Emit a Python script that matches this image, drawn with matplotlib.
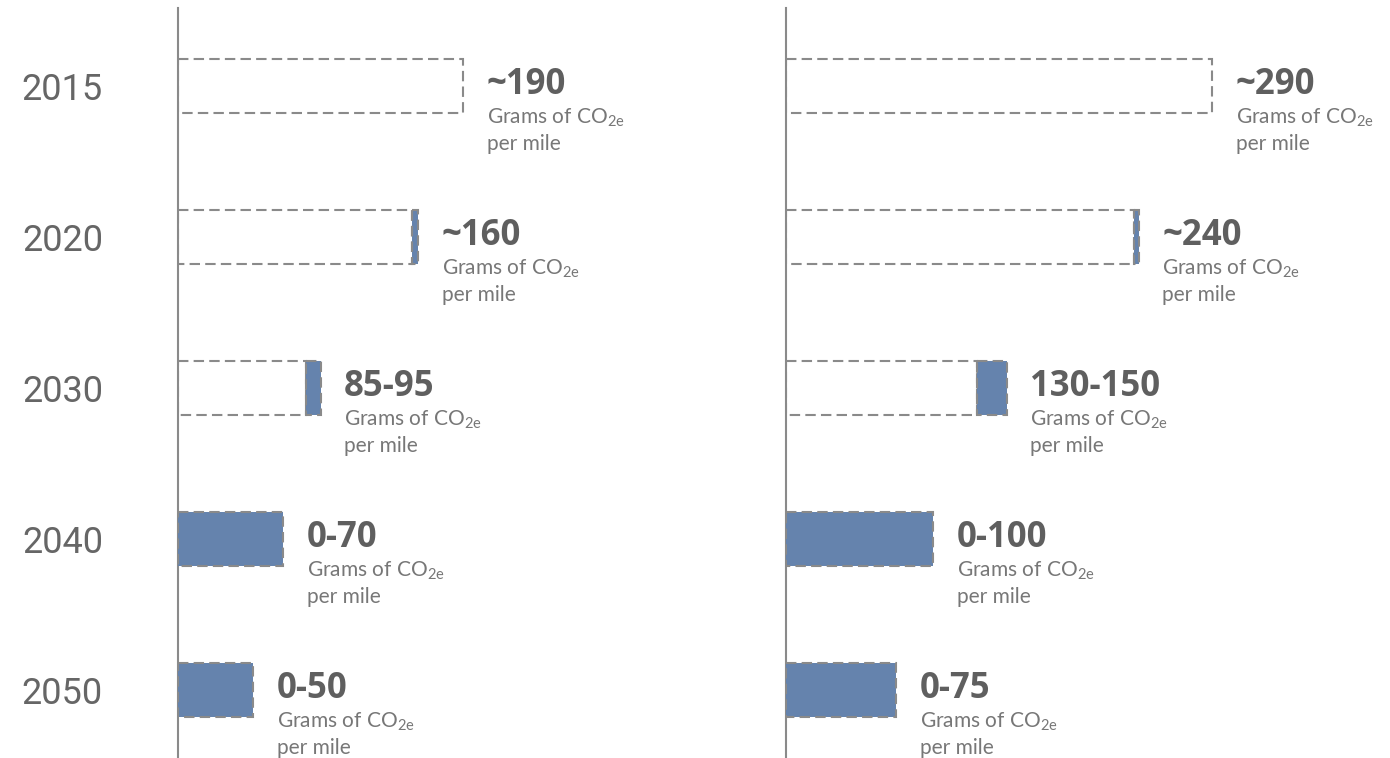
import matplotlib.pyplot as plt

plt.rcParams['font.family'] = ['Lato', 'DejaVu Sans']
plt.rcParams['mathtext.fontset'] = 'custom'
plt.rcParams['mathtext.rm'] = 'Lato'

years = ['2015', '2020', '2030', '2040', '2050']

# grams CO2e per mile: lower / upper bound of each range
left_low = [190, 156, 85, 0, 0]
left_high = [190, 160, 95, 70, 50]
left_labels = ['~190', '~160', '85-95', '0-70', '0-50']

right_low = [290, 237, 130, 0, 0]
right_high = [290, 240, 150, 100, 75]
right_labels = ['~290', '~240', '130-150', '0-100', '0-75']

BLUE = '#6583ad'
EDGE = '#8a8a8a'
TEXT = '#5f5f5f'
W, H = 1390, 758

fig = plt.figure(figsize=(W / 100, H / 100), dpi=100)


def panel(x0, x1, scale, low, high, labels, show_years):
    ax = fig.add_axes([x0 / W, 0, (x1 - x0) / W, (H - 8) / H])
    ax.set_xlim(0, (x1 - x0) / scale)
    ax.set_ylim(4.45, -0.517)
    rows = range(len(low))
    h = 0.358
    for i in rows:
        if low[i] > 0:
            ax.barh(i, low[i], height=h, left=0, fill=False, edgecolor=EDGE,
                    linestyle=(0, (5, 2.5)), linewidth=1.5, zorder=2)
        if high[i] > low[i]:
            ax.barh(i, high[i] - low[i], height=h, left=low[i], color=BLUE,
                    edgecolor=EDGE, linestyle=(0, (5, 2.5)), linewidth=1.5, zorder=3)
        ax.annotate(labels[i], (high[i], i), xytext=(17, 1), textcoords='offset points',
                    ha='left', va='center', fontsize=25, fontweight='bold',
                    family=['Open Sans', 'DejaVu Sans'], color=TEXT)
        ax.annotate('Grams of CO$_\\mathrm{2e}$', (high[i], i), xytext=(17, -23),
                    textcoords='offset points', ha='left', va='center',
                    fontsize=15, color='#777777')
        ax.annotate('per mile', (high[i], i), xytext=(17, -42),
                    textcoords='offset points', ha='left', va='center',
                    fontsize=15, color='#777777')
    for s in ['top', 'right', 'bottom']:
        ax.spines[s].set_visible(False)
    ax.spines['left'].set_color(EDGE)
    ax.spines['left'].set_linewidth(1.5)
    ax.set_xticks([])
    ax.set_yticks(list(rows))
    ax.tick_params(axis='y', length=0, pad=54)
    if show_years:
        ax.set_yticklabels(years, fontsize=26, color='#666666',
                           family=['Roboto', 'DejaVu Sans'], fontweight='normal')
    else:
        ax.set_yticklabels([])
    ax.patch.set_alpha(0)
    return ax


panel(178, 700, 1.5, left_low, left_high, left_labels, True)
panel(786, 1390, 1.47, right_low, right_high, right_labels, False)

fig.savefig('out.png', dpi=100)
